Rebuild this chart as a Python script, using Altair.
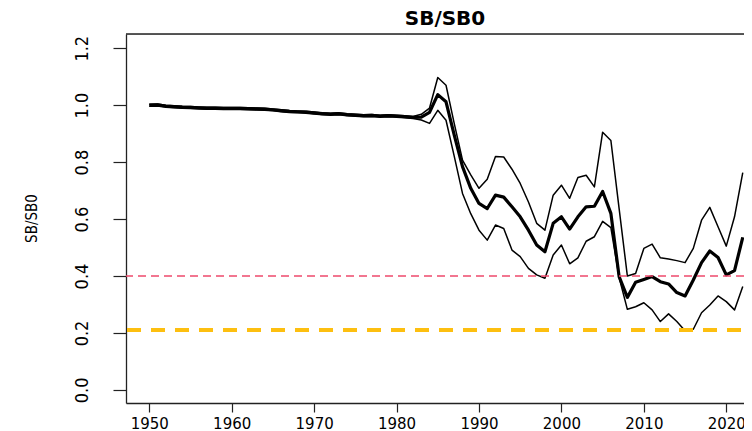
import altair as alt
import pandas as pd

years = list(range(1950, 2023))

median = [
    1.000, 1.001, 0.997, 0.995, 0.993, 0.992, 0.991, 0.990, 0.990, 0.989,
    0.989, 0.989, 0.988, 0.987, 0.986, 0.984, 0.981, 0.978, 0.977, 0.976,
    0.973, 0.970, 0.969, 0.970, 0.967, 0.965, 0.963, 0.964, 0.962, 0.963,
    0.962, 0.960, 0.957, 0.958, 0.975, 1.037, 1.012, 0.895, 0.784, 0.708,
    0.655, 0.637, 0.684, 0.677, 0.643, 0.608, 0.561, 0.509, 0.485, 0.585,
    0.608, 0.565, 0.608, 0.643, 0.645, 0.697, 0.620, 0.398, 0.325, 0.378,
    0.388, 0.398, 0.380, 0.372, 0.342, 0.330, 0.386, 0.447, 0.488, 0.465,
    0.404, 0.419, 0.536,
]

upper = [
    1.003, 1.004, 1.000, 0.998, 0.996, 0.995, 0.994, 0.993, 0.993, 0.992,
    0.992, 0.992, 0.991, 0.990, 0.989, 0.987, 0.984, 0.981, 0.980, 0.979,
    0.976, 0.973, 0.972, 0.973, 0.970, 0.968, 0.966, 0.967, 0.965, 0.966,
    0.965, 0.963, 0.960, 0.968, 0.990, 1.097, 1.070, 0.935, 0.807, 0.755,
    0.708, 0.740, 0.820, 0.818, 0.775, 0.725, 0.660, 0.585, 0.561, 0.684,
    0.719, 0.673, 0.746, 0.754, 0.713, 0.905, 0.876, 0.637, 0.400, 0.409,
    0.497, 0.512, 0.464, 0.460, 0.454, 0.447, 0.497, 0.596, 0.641, 0.573,
    0.505, 0.608, 0.763,
]

lower = [
    0.996, 0.997, 0.993, 0.991, 0.989, 0.988, 0.987, 0.986, 0.986, 0.985,
    0.985, 0.985, 0.984, 0.983, 0.982, 0.980, 0.977, 0.974, 0.973, 0.972,
    0.969, 0.966, 0.965, 0.966, 0.963, 0.961, 0.959, 0.960, 0.958, 0.959,
    0.958, 0.956, 0.953, 0.948, 0.936, 0.982, 0.947, 0.820, 0.690, 0.619,
    0.561, 0.526, 0.579, 0.567, 0.491, 0.468, 0.427, 0.404, 0.392, 0.474,
    0.509, 0.443, 0.464, 0.522, 0.538, 0.592, 0.570, 0.395, 0.283, 0.292,
    0.306, 0.281, 0.240, 0.267, 0.240, 0.208, 0.213, 0.271, 0.298, 0.330,
    0.310, 0.281, 0.363,
]

target_level = [0.4]
limit_level = [0.21]
x_ticks = [1950, 1960, 1970, 1980, 1990, 2000, 2010, 2020]
y_ticks = [0.0, 0.2, 0.4, 0.6, 0.8, 1.0, 1.2]
y_top = 1.25
title_text = ["SB/SB0"]

n = len(years)
assert len(median) == n and len(upper) == n and len(lower) == n

band = pd.DataFrame({
    "year": years + years,
    "value": upper + lower,
    "series": ["upper"] * n + ["lower"] * n,
})
mid = pd.DataFrame({"year": years, "value": median})
target_df = pd.DataFrame({"level": target_level})
limit_df = pd.DataFrame({"level": limit_level})
title_df = pd.DataFrame({"t": title_text})

narrow = "Liberation Sans Narrow, Arial Narrow, DejaVu Sans Condensed, Liberation Sans, sans-serif"
frame = "#222222"

xscale = alt.Scale(domain=[1947.175, 2022.15], nice=False, zero=False)
yscale = alt.Scale(domain=[-0.046, y_top], nice=False, zero=False)

xaxis = alt.Axis(
    values=x_ticks, format="d", title=None, grid=False,
    domain=True, domainColor=frame, domainWidth=1.3,
    tickSize=9, tickColor=frame, tickWidth=1.2,
    labelFont="DejaVu Sans", labelFontSize=15, labelColor="black",
    labelPadding=4, labelFlush=False, labelOverlap=False,
)
yaxis = alt.Axis(
    values=y_ticks, format=".1f", title="SB/SB0", grid=False,
    domain=True, domainColor=frame, domainWidth=1.3,
    tickSize=13, tickColor=frame, tickWidth=1.2,
    labelAngle=270, labelAlign="center", labelBaseline="alphabetic",
    labelPadding=26, labelFont=narrow, labelFontSize=18, labelColor="black",
    labelOverlap=False,
    titleFont=narrow, titleFontSize=15, titleFontWeight="normal", titleColor="black",
    titleAngle=270, titleX=-90, titleY=184, titleAlign="center",
    titleBaseline="alphabetic",
)

x_enc = alt.X("year:Q", scale=xscale, axis=xaxis)
y_enc = alt.Y("value:Q", scale=yscale, axis=yaxis)

bounds = alt.Chart(band).mark_line(
    color="black", strokeWidth=1.5, clip=True, strokeJoin="round"
).encode(x=x_enc, y=y_enc, detail="series:N")

center = alt.Chart(mid).mark_line(
    color="black", strokeWidth=3.2, clip=True, strokeJoin="round"
).encode(x=alt.X("year:Q", scale=xscale), y=alt.Y("value:Q", scale=yscale))

target_rule = alt.Chart(target_df).mark_rule(
    color="#EE4A6C", strokeWidth=1.5, strokeDash=[8, 5]
).encode(y=alt.Y("level:Q", scale=yscale))

limit_rule = alt.Chart(limit_df).mark_rule(
    color="#FDBF10", strokeWidth=4, strokeDash=[14, 10], strokeDashOffset=21
).encode(y=alt.Y("level:Q", scale=yscale))

top_frame = alt.Chart(target_df).mark_rule(
    color=frame, strokeWidth=1.3
).encode(y=alt.datum(y_top, scale=yscale))

title_mark = alt.Chart(title_df).mark_text(
    font="DejaVu Sans", fontSize=20, fontWeight="bold", color="black",
    align="center", baseline="alphabetic",
).encode(x=alt.value(319), y=alt.value(-9), text="t:N")

chart = alt.layer(
    bounds, center, target_rule, limit_rule, top_frame, title_mark
).properties(
    width=618,
    height=369,
    autosize=alt.AutoSizeParams(type="none"),
    padding={"left": 118, "top": 26, "right": 0, "bottom": 28},
).configure_view(
    stroke=None
).configure(background="white")

chart.save("out.html", embed_options={"renderer": "svg", "actions": False})
